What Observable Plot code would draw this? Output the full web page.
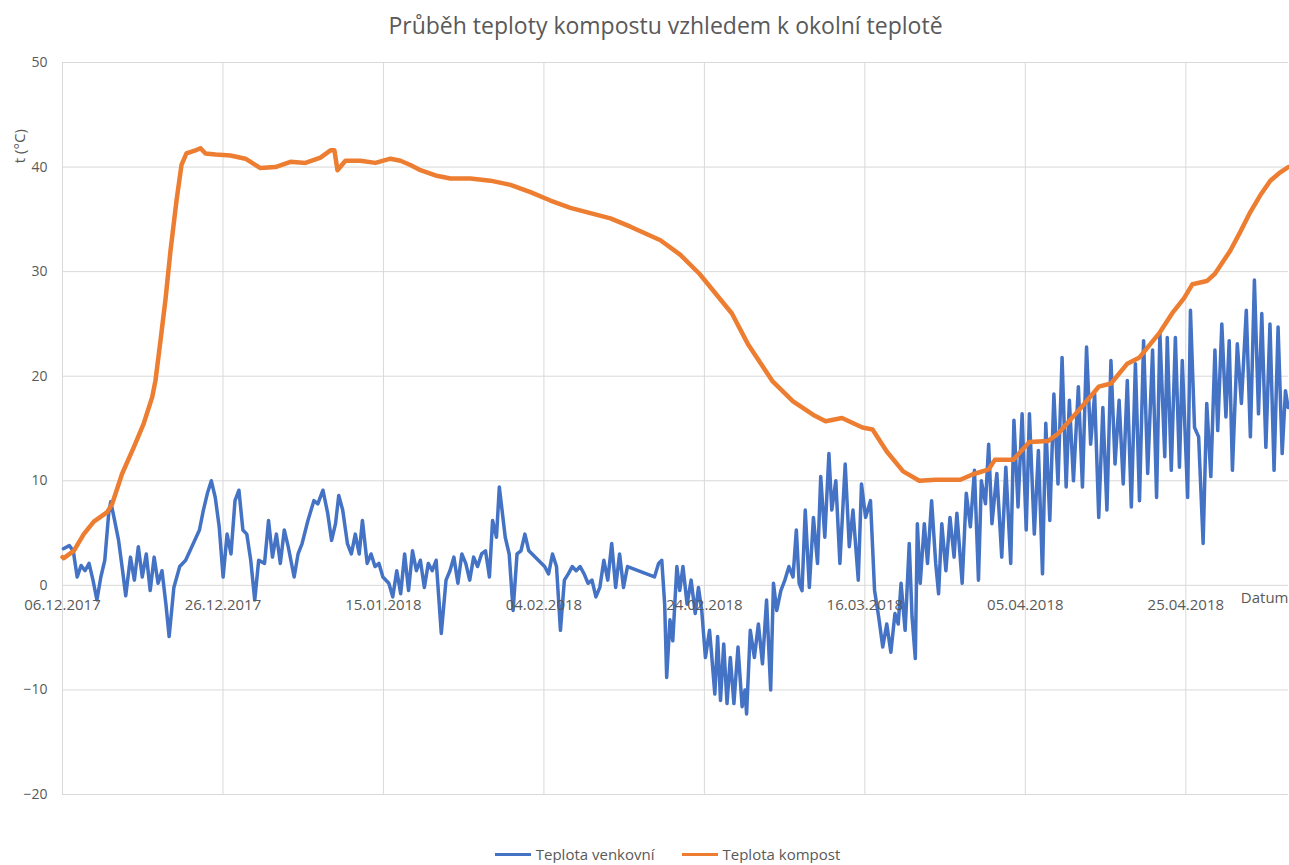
<!DOCTYPE html>
<html>
<head>
<meta charset="utf-8">
<script src="https://cdn.jsdelivr.net/npm/d3@7"></script>
<script src="https://cdn.jsdelivr.net/npm/@observablehq/plot@0.6"></script>
<style>
  html, body { margin: 0; padding: 0; background: #fff; overflow: hidden; }
  #wrap { width: 1289px; font-family: "Open Sans", sans-serif; color: #595959; }
  #title { height: 50px; line-height: 50px; text-align: center; font-size: 23px; color: #595959; padding-left: 42px; }
  #legend { display: flex; justify-content: center; gap: 27px; padding-top: 6px; padding-left: 46px; font-size: 15px; line-height: 17px; color: #595959; }
  .item { display: flex; align-items: center; }
  .sw { width: 36px; height: 3px; margin-right: 5px; }
</style>
</head>
<body>
<div id="wrap">
  <div id="title">Průběh teploty kompostu vzhledem k okolní teplotě</div>
  <div id="chart"></div>
  <div id="legend"></div>
</div>
<script>
// Day offsets from 06.12.2017 and temperatures
const outdoorDays = [
  0.11,0.85,1.34,1.83,2.32,2.81,3.31,3.80,4.29,4.78,5.27,5.76,6.01,6.50,6.99,7.49,7.88,8.47,8.96,9.45,9.94,
  10.44,10.93,11.42,11.91,12.40,12.89,13.29,13.88,14.61,15.35,17.07,17.56,18.06,18.55,19.04,19.53,20.02,
  20.51,21.00,21.50,21.99,22.48,22.97,23.46,23.96,24.45,25.18,25.68,26.17,26.66,27.15,27.64,28.13,28.87,
  29.36,29.86,30.59,31.33,31.82,32.46,33.05,33.54,34.03,34.43,34.92,35.51,36.00,36.49,36.98,37.38,37.97,
  38.46,38.95,39.44,39.93,40.67,41.16,41.66,42.15,42.64,43.13,43.62,44.11,44.60,45.10,45.59,46.08,46.57,
  47.21,47.80,48.29,48.78,49.28,49.77,50.26,50.75,51.24,51.73,52.23,52.72,53.21,53.60,54.09,54.44,54.78,
  55.18,55.67,56.16,56.65,57.14,57.63,58.12,60.09,60.58,61.07,61.57,62.06,62.55,63.04,63.53,64.02,64.51,
  65.01,65.50,65.99,66.48,66.97,67.47,67.96,68.45,68.94,69.43,69.92,70.42,
  73.78,74.29,74.69,75.05,75.30,75.71,76.06,76.57,76.93,77.33,77.84,78.35,78.86,79.26,79.67,80.13,80.64,
  80.89,81.30,81.65,82.01,82.41,82.82,83.23,83.68,84.19,84.70,85.06,85.26,85.72,86.23,86.73,87.24,87.75,
  88.26,88.61,89.02,89.53,90.03,90.54,91.05,91.46,91.81,92.17,92.57,93.08,93.59,94.10,94.50,95.01,95.52,
  95.88,96.38,96.89,97.55,98.06,98.52,99.18,99.58,100.09,100.70,101.21,101.72,102.23,102.73,103.24,103.75,
  104.16,104.51,105.02,105.53,105.88,106.29,106.54,106.90,107.41,107.81,108.32,108.83,109.19,109.59,110.10,
  110.61,111.12,111.47,112.13,112.64,113.15,113.66,114.16,114.52,115.03,115.43,115.84,116.45,117.06,117.57,
  118.18,118.58,119.09,119.60,120.11,120.51,121.12,121.63,122.14,122.55,123.05,123.56,124.07,124.58,125.09,
  125.49,126.00,126.61,127.12,127.63,128.14,128.64,129.15,129.66,130.17,130.67,131.18,131.69,132.20,132.71,
  133.21,133.72,134.23,134.74,135.25,135.86,136.36,136.77,137.38,137.69,138.19,138.70,139.21,139.56,140.23,
  140.58,141.09,141.60,142.16,142.61,143.12,143.63,143.98,144.49,145.00,145.41,145.81,146.42,146.93,147.54,
  148.05,148.55,149.06,149.47,149.98,150.49,151.00,151.50,152.01,152.42,152.75
];
const outdoorTemps = [
  3.5,3.8,3.3,0.8,1.9,1.4,2.1,0.5,-1.4,0.8,2.4,6.9,8.0,6.2,4.3,1.4,-1.0,2.7,0.5,3.7,0.8,
  3.0,-0.5,2.7,0.2,1.4,-1.8,-4.9,-0.2,1.8,2.4,5.3,7.2,8.8,10.0,8.4,5.6,0.8,
  4.9,3.0,8.1,9.1,5.3,4.9,2.4,-1.4,2.4,2.1,6.2,2.7,4.9,2.1,5.3,3.7,0.8,
  3.0,4.0,6.2,8.1,7.8,9.1,6.9,4.3,5.9,8.6,7.2,4.0,3.0,4.9,3.0,6.2,2.1,
  3.0,1.8,2.1,0.8,0.2,-1.1,1.4,-0.8,3.0,-0.5,3.3,1.4,2.4,-0.2,2.1,1.4,2.4,
  -4.6,0.5,1.4,2.7,0.2,3.0,2.1,0.5,2.7,1.8,3.0,3.3,0.8,6.2,4.6,9.4,7.2,
  4.6,3.0,-2.4,3.0,3.3,4.9,3.3,1.8,1.1,3.0,1.8,-4.3,0.5,1.1,1.8,1.4,1.8,
  1.1,0.2,0.5,-1.1,-0.2,2.4,0.5,4.0,-0.2,3.0,-0.2,1.8,
  0.8,2.1,2.4,-1.8,-8.8,-3.3,-5.3,1.8,-0.5,1.8,-1.8,0.5,-2.7,-0.2,-2.4,-6.9,-4.3,
  -6.5,-10.4,-4.9,-11.0,-5.6,-11.3,-6.9,-11.3,-5.9,-11.6,-10.0,-12.3,-4.3,-6.9,-3.7,-7.5,-1.4,
  -10.0,0.2,-2.4,-0.5,0.5,1.8,0.8,5.3,0.2,-0.5,7.2,-0.2,6.5,2.1,10.4,4.6,12.6,
  7.2,10.0,2.1,11.6,3.7,7.2,0.5,9.7,6.5,8.1,-0.5,-3.0,-5.9,-3.7,-6.4,-2.7,
  -3.7,0.2,-4.3,4.0,-3.0,-7.0,5.9,0.2,5.9,2.1,8.1,2.1,-0.8,5.9,1.4,
  6.5,2.7,6.9,0.2,8.8,5.6,11.0,0.5,10.0,7.8,13.5,5.9,10.7,2.7,11.3,
  2.1,15.8,7.5,16.4,5.3,16.4,4.9,12.9,1.1,15.5,6.2,18.3,9.7,21.8,9.4,
  17.7,10.0,19.0,9.4,22.8,13.5,18.3,6.5,17.0,7.2,21.5,11.6,17.7,9.7,19.6,
  7.5,21.2,8.1,23.4,10.7,22.5,8.4,24.1,12.3,23.7,11.0,23.7,11.3,21.5,8.4,
  26.3,15.1,14.2,4.0,17.4,10.4,22.5,14.8,25.0,16.1,23.4,11.0,23.1,17.4,26.3,
  14.2,29.2,16.4,26.0,13.2,25.0,11.0,24.7,12.6,18.6,17.0
];

const compostDays = [
  0,0.16,1.41,2.65,3.90,5.57,6.19,7.44,8.88,10.13,11.18,11.59,12.21,12.83,13.46,14.21,14.83,15.45,16.57,
  17.20,17.82,19.07,20.93,22.80,24.67,26.54,28.41,30.28,32.15,33.40,33.89,34.27,35.26,37.13,39.00,40.87,
  42.12,43.36,44.61,46.48,48.35,50.84,53.33,55.83,58.32,60.81,63.30,65.79,68.29,70.78,74.52,77.01,79.38,
  83.43,85.48,88.51,91.05,93.58,95.11,97.15,99.69,100.96,102.73,104.77,106.79,108.83,111.90,113.40,115.44,
  116.20,118.48,120.51,122.80,124.07,126.61,129.15,130.68,132.71,134.23,136.77,138.29,139.81,140.83,142.62,
  143.63,145.54,146.79,148.04,149.28,150.53,151.78,152.77
];
const compostTemps = [
  2.7,2.6,3.3,4.9,6.1,7.0,7.8,10.7,13.2,15.5,18.0,19.6,23.4,27.3,32.0,36.8,40.2,41.3,41.6,
  41.8,41.3,41.2,41.1,40.8,39.9,40.0,40.5,40.4,40.9,41.6,41.6,39.7,40.6,40.6,40.4,40.8,
  40.6,40.2,39.7,39.2,38.9,38.9,38.7,38.3,37.6,36.8,36.1,35.6,35.1,34.3,33.0,31.6,29.8,
  26.0,23.0,19.5,17.6,16.3,15.7,16.0,15.1,14.9,12.8,10.9,10.0,10.1,10.1,10.6,11.1,
  12.0,12.0,13.7,13.8,14.5,16.7,19.0,19.3,21.2,21.8,24.2,26.0,27.5,28.8,29.1,
  29.8,32.0,33.8,35.7,37.3,38.7,39.5,40.0
];

const tickDays = [0, 20, 40, 60, 80, 100, 120, 140];
const tickLabels = ["06.12.2017","26.12.2017","15.01.2018","04.02.2018","24.02.2018","16.03.2018","05.04.2018","25.04.2018"];
const yTicks = [-20, -10, 0, 10, 20, 30, 40, 50];
const seriesNames = ["Teplota venkovní", "Teplota kompost"];
const seriesColors = ["#4472C4", "#ED7D31"];

const t0 = Date.UTC(2017, 11, 6);
const toDate = d => new Date(t0 + d * 864e5);
const endDay = 152.8;

const outdoor = outdoorDays.map((d, i) => ({date: toDate(d), t: outdoorTemps[i]}));
const compost = compostDays.map((d, i) => ({date: toDate(d), t: compostTemps[i]}));
const ticks = tickDays.map((d, i) => ({date: toDate(d), label: tickLabels[i]}));

const chart = Plot.plot({
  width: 1289,
  height: 790,
  marginTop: 12,
  marginBottom: 46,
  marginLeft: 62,
  marginRight: 1,
  style: {fontFamily: "Open Sans, sans-serif", color: "#595959", background: "#fff"},
  x: {type: "utc", domain: [toDate(0), toDate(endDay)], axis: null},
  y: {domain: [-20, 50], axis: null},
  marks: [
    Plot.gridY(yTicks, {stroke: "#d9d9d9", strokeOpacity: 1, strokeWidth: 1}),
    Plot.gridX(ticks.map(d => d.date), {stroke: "#d9d9d9", strokeOpacity: 1, strokeWidth: 1}),
    Plot.axisY(yTicks, {tickSize: 0, tickPadding: 15, fontSize: 14, fill: "#595959", label: null}),
    Plot.line(outdoor, {x: "date", y: "t", stroke: seriesColors[0], strokeWidth: 3.5, strokeLinejoin: "round"}),
    Plot.line(compost, {x: "date", y: "t", stroke: seriesColors[1], strokeWidth: 4.5}),
    Plot.text(ticks, {x: "date", y: () => 0, text: "label", dy: 20, fontSize: 15, fill: "#595959"}),
    Plot.text(["Datum"], {x: () => toDate(endDay), y: () => 0, text: d => d, dy: 13, textAnchor: "end", fontSize: 15, fill: "#595959"}),
    Plot.text(["t (°C)"], {x: () => toDate(0), y: () => 42, text: d => d, rotate: -90, dx: -42, fontSize: 15, fill: "#595959"})
  ]
});
document.getElementById("chart").appendChild(chart);

const legend = document.getElementById("legend");
seriesNames.forEach((name, i) => {
  const item = document.createElement("div");
  item.className = "item";
  const sw = document.createElement("span");
  sw.className = "sw";
  sw.style.background = seriesColors[i];
  const lab = document.createElement("span");
  lab.textContent = name;
  item.appendChild(sw);
  item.appendChild(lab);
  legend.appendChild(item);
});
</script>
</body>
</html>
